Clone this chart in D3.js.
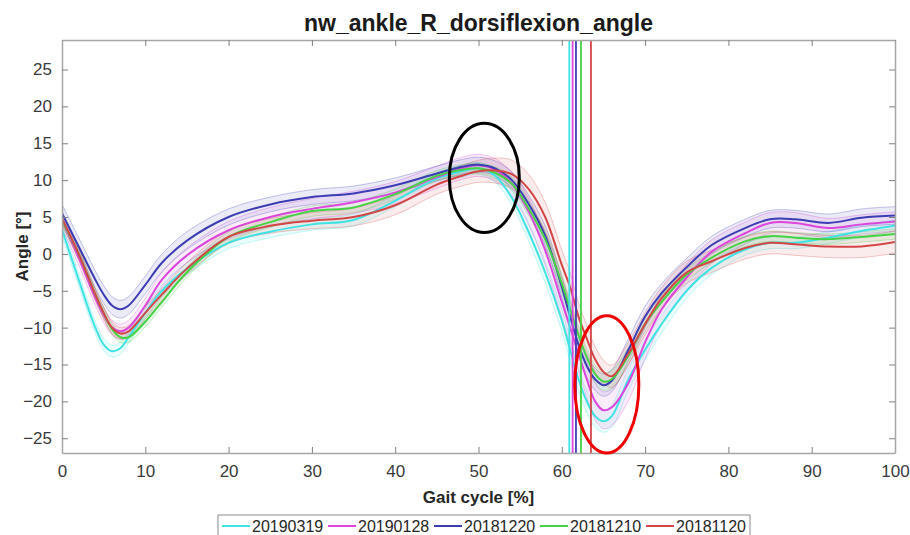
<!DOCTYPE html>
<html>

<head>
  <meta charset="utf-8">
  <title>nw_ankle_R_dorsiflexion_angle</title>
  <style>
    body { margin: 0; background: #fff; }
    text { font-family: "Liberation Sans", Arial, sans-serif; }
  </style>
</head>

<body>

  <script src="https://d3js.org/d3.v7.min.js" charset="utf-8"></script>
  <script type="text/javascript">
    // gait cycle sample points (%)
    var pct = [0, 2, 4, 5, 6, 7, 8, 10, 12, 15, 20, 25, 30, 35, 40, 45, 48, 50, 52, 54,
      56, 58, 60, 61, 62, 63, 64, 65, 66, 68, 70, 72, 75, 78, 82, 85, 88, 92, 96, 100];

    var sessions = ["20190319", "20190128", "20181220", "20181210", "20181120"];
    var colors = ["#3fe3e3", "#dc46dc", "#3c3cb4", "#46d246", "#d24646"];

    // mean angle per session (deg)
    var m20190319 = [3.3, -3.5, -10.0, -12.3, -13.2, -12.8, -11.3, -8.0, -5.0, -2.0, 1.5, 3.0, 4.0, 4.6, 7.2, 10.2, 11.2, 11.6, 10.6, 7.6,
      3.0, -2.5, -9.0, -13.0, -17.0, -20.0, -22.0, -22.7, -22.0, -17.0, -13.0, -9.5, -5.0, -1.9, 0.6, 1.5, 1.5, 2.2, 3.1, 3.8];
    var m20190128 = [4.5, -0.5, -6.0, -8.3, -10.0, -10.5, -10.0, -7.0, -3.5, -0.2, 3.2, 5.0, 6.1, 7.0, 8.3, 10.4, 11.6, 12.0, 11.4, 9.5,
      5.8, 0.5, -6.5, -10.0, -13.5, -17.0, -20.0, -21.2, -20.8, -17.5, -12.0, -7.5, -3.2, 0.3, 2.8, 4.2, 4.2, 3.5, 4.0, 4.4];
    var m20181220 = [5.5, 1.0, -3.5, -5.5, -7.0, -7.5, -7.0, -4.2, -1.2, 1.8, 5.0, 6.7, 7.7, 8.2, 9.3, 10.9, 11.8, 12.1, 11.6, 10.0,
      6.8, 2.5, -4.5, -8.5, -12.3, -15.2, -17.0, -17.8, -17.2, -13.0, -8.5, -5.3, -1.8, 1.2, 3.5, 4.7, 4.7, 4.2, 4.9, 5.2];
    var m20181210 = [4.5, 0.0, -5.5, -8.0, -10.2, -11.3, -11.3, -9.2, -6.5, -2.5, 2.3, 4.3, 5.8, 6.3, 8.1, 10.6, 11.4, 11.6, 11.0, 9.5,
      6.2, 2.0, -4.0, -7.5, -11.0, -14.0, -16.3, -17.3, -17.0, -13.8, -9.5, -6.5, -2.8, -0.5, 1.7, 2.4, 2.2, 2.0, 2.3, 2.7];
    var m20181120 = [4.8, 0.0, -5.5, -8.0, -10.0, -10.8, -10.5, -8.0, -5.5, -2.0, 2.3, 3.8, 4.5, 5.0, 6.6, 9.4, 10.6, 11.2, 11.3, 10.8,
      8.8, 5.0, -1.5, -4.5, -8.5, -11.5, -14.3, -16.0, -16.6, -13.5, -9.5, -6.0, -2.5, -1.0, 0.8, 1.5, 1.3, 1.0, 1.0, 1.6];

    // standard deviation per session (deg)
    var s20190319 = [0.8, 0.8, 0.8, 0.8, 0.8, 0.8, 0.8, 0.8, 0.8, 0.8, 0.8, 0.8, 0.8, 0.8, 0.8, 0.8, 0.8, 0.8, 0.9, 1.0,
      1.2, 1.4, 1.5, 1.5, 1.5, 1.5, 1.5, 1.5, 1.5, 1.5, 1.4, 1.2, 1.0, 0.9, 0.8, 0.8, 0.8, 0.8, 0.8, 0.8];
    var s20190128 = [1.0, 1.0, 1.0, 1.0, 1.0, 1.0, 1.0, 1.0, 1.0, 1.0, 1.2, 1.3, 1.4, 1.5, 1.5, 1.5, 1.5, 1.5, 1.5, 1.6,
      1.8, 2.0, 2.2, 2.3, 2.4, 2.5, 2.5, 2.5, 2.5, 2.4, 2.2, 2.0, 1.8, 1.6, 1.5, 1.4, 1.4, 1.3, 1.3, 1.3];
    var s20181220 = [1.2, 1.2, 1.2, 1.2, 1.2, 1.2, 1.2, 1.2, 1.2, 1.2, 1.1, 1.0, 1.0, 1.0, 1.0, 1.0, 1.0, 1.0, 1.0, 1.1,
      1.2, 1.3, 1.4, 1.5, 1.5, 1.5, 1.5, 1.5, 1.5, 1.5, 1.4, 1.3, 1.2, 1.2, 1.2, 1.2, 1.2, 1.2, 1.2, 1.2];
    var s20181210 = [0.7, 0.7, 0.7, 0.7, 0.7, 0.7, 0.7, 0.7, 0.7, 0.7, 0.7, 0.7, 0.7, 0.7, 0.7, 0.7, 0.7, 0.7, 0.8, 0.9,
      1.0, 1.1, 1.2, 1.2, 1.2, 1.2, 1.2, 1.2, 1.2, 1.1, 1.0, 0.9, 0.8, 0.7, 0.7, 0.7, 0.7, 0.7, 0.7, 0.7];
    var s20181120 = [0.8, 0.8, 0.8, 0.8, 0.8, 0.8, 0.8, 0.8, 0.8, 0.8, 0.9, 1.0, 1.1, 1.2, 1.3, 1.3, 1.4, 1.5, 1.7, 1.9,
      2.0, 2.0, 2.0, 2.0, 1.9, 1.8, 1.7, 1.6, 1.5, 1.5, 1.5, 1.5, 1.5, 1.5, 1.5, 1.5, 1.5, 1.5, 1.5, 1.5];

    var means = [m20190319, m20190128, m20181220, m20181210, m20181120];
    var sds = [s20190319, s20190128, s20181220, s20181210, s20181120];

    // toe-off per session (%)
    var toeOff = [60.9, 61.3, 61.7, 62.3, 63.5];

    var xTicks = [0, 10, 20, 30, 40, 50, 60, 70, 80, 90, 100];
    var yTicks = [-25, -20, -15, -10, -5, 0, 5, 10, 15, 20, 25];

    // hand drawn marks (centre and radii in data units)
    var markCx = [50.7, 65.4];
    var markCy = [10.3, -17.7];
    var markRx = [4.2, 3.85];
    var markRy = [7.4, 9.3];
    var markColors = ["#000000", "#ee0000"];

    var width = 910;
    var height = 535;
    var plotL = 62, plotR = 895, plotT = 40, plotB = 453;

    var svg = d3.select("body")
      .append("svg")
      .attr("width", width)
      .attr("height", height);

    var x = d3.scaleLinear().domain([0, 100]).range([plotL, plotR]);
    var y = d3.scaleLinear().domain([-27, 29]).range([plotB, plotT]);

    svg.append("clipPath").attr("id", "plot")
      .append("rect")
      .attr("x", plotL).attr("y", plotT)
      .attr("width", plotR - plotL).attr("height", plotB - plotT);

    var g = svg.append("g").attr("clip-path", "url(#plot)");

    function series(i) {
      return pct.map(function(p, j) {
        return { x: p, m: means[i][j], s: sds[i][j] };
      });
    }

    var curve = d3.curveCatmullRom.alpha(0.5);

    var band = d3.area()
      .x(function(d) { return x(d.x); })
      .y0(function(d) { return y(d.m - d.s); })
      .y1(function(d) { return y(d.m + d.s); })
      .curve(curve);
    var upper = d3.line()
      .x(function(d) { return x(d.x); })
      .y(function(d) { return y(d.m + d.s); })
      .curve(curve);
    var lower = d3.line()
      .x(function(d) { return x(d.x); })
      .y(function(d) { return y(d.m - d.s); })
      .curve(curve);
    var line = d3.line()
      .x(function(d) { return x(d.x); })
      .y(function(d) { return y(d.m); })
      .curve(curve);

    sessions.forEach(function(name, i) {
      var d = series(i);
      g.append("path").attr("d", band(d))
        .attr("fill", colors[i]).attr("fill-opacity", 0.1);
      g.append("path").attr("d", upper(d))
        .attr("fill", "none").attr("stroke", colors[i])
        .attr("stroke-opacity", 0.3).attr("stroke-width", 1);
      g.append("path").attr("d", lower(d))
        .attr("fill", "none").attr("stroke", colors[i])
        .attr("stroke-opacity", 0.3).attr("stroke-width", 1);
    });

    sessions.forEach(function(name, i) {
      g.append("path").attr("d", line(series(i)))
        .attr("fill", "none").attr("stroke", colors[i])
        .attr("stroke-width", 2);
    });

    g.selectAll("line.toe").data(toeOff).enter().append("line")
      .attr("class", "toe")
      .attr("x1", function(d) { return x(d); })
      .attr("x2", function(d) { return x(d); })
      .attr("y1", plotT).attr("y2", plotB)
      .attr("stroke", function(d, i) { return colors[i]; })
      .attr("stroke-width", 1.8);

    // axes: box with inward ticks
    var axisColor = "#a6a6a6";
    var labelColor = "#3a3a3a";

    svg.append("g").attr("transform", "translate(0," + plotB + ")")
      .call(d3.axisBottom(x).tickValues(xTicks).tickSizeInner(-6).tickSizeOuter(0).tickPadding(12));
    svg.append("g").attr("transform", "translate(0," + plotT + ")")
      .call(d3.axisTop(x).tickValues(xTicks).tickSizeInner(-6).tickSizeOuter(0).tickFormat(""));
    svg.append("g").attr("transform", "translate(" + plotL + ",0)")
      .call(d3.axisLeft(y).tickValues(yTicks).tickSizeInner(-6).tickSizeOuter(0).tickPadding(10));
    svg.append("g").attr("transform", "translate(" + plotR + ",0)")
      .call(d3.axisRight(y).tickValues(yTicks).tickSizeInner(-6).tickSizeOuter(0).tickFormat(""));

    svg.selectAll(".domain").attr("stroke", axisColor).attr("stroke-width", 1.5);
    svg.selectAll(".tick line").attr("stroke", "#808080");
    svg.selectAll(".tick text")
      .attr("fill", labelColor)
      .style("font-size", "17px")
      .style("font-family", "'Liberation Sans', Arial, sans-serif");

    // hand drawn ellipses
    markCx.forEach(function(cx, i) {
      svg.append("ellipse")
        .attr("cx", x(cx)).attr("cy", y(markCy[i]))
        .attr("rx", x(markRx[i]) - x(0)).attr("ry", y(0) - y(markRy[i]))
        .attr("fill", "none").attr("stroke", markColors[i]).attr("stroke-width", 3);
    });

    svg.append("text")
      .attr("x", (plotL + plotR) / 2).attr("y", 31)
      .attr("text-anchor", "middle")
      .style("font-size", "23px").style("font-weight", "bold")
      .attr("fill", "#1a1a1a")
      .text("nw_ankle_R_dorsiflexion_angle");

    svg.append("text")
      .attr("x", (plotL + plotR) / 2).attr("y", 503)
      .attr("text-anchor", "middle")
      .style("font-size", "17px").style("font-weight", "bold")
      .attr("fill", "#262626")
      .text("Gait cycle [%]");

    svg.append("text")
      .attr("transform", "translate(28," + ((plotT + plotB) / 2) + ") rotate(-90)")
      .attr("text-anchor", "middle")
      .style("font-size", "17px").style("font-weight", "bold")
      .attr("fill", "#262626")
      .text("Angle [°]");

    // legend
    var lg = svg.append("g").attr("transform", "translate(218,515)");
    lg.append("rect")
      .attr("width", 532).attr("height", 26)
      .attr("fill", "#fff").attr("stroke", "#8c8c8c");
    var item = lg.selectAll("g.item").data(sessions).enter().append("g")
      .attr("class", "item")
      .attr("transform", function(d, i) { return "translate(" + (4 + i * 106) + ",0)"; });
    item.append("line")
      .attr("x1", 0).attr("x2", 28).attr("y1", 11).attr("y2", 11)
      .attr("stroke", function(d, i) { return colors[i]; })
      .attr("stroke-width", 2);
    item.append("text")
      .attr("x", 30).attr("y", 17)
      .style("font-size", "16px")
      .attr("fill", "#262626")
      .text(function(d) { return d; });
  </script>
</body>

</html>
